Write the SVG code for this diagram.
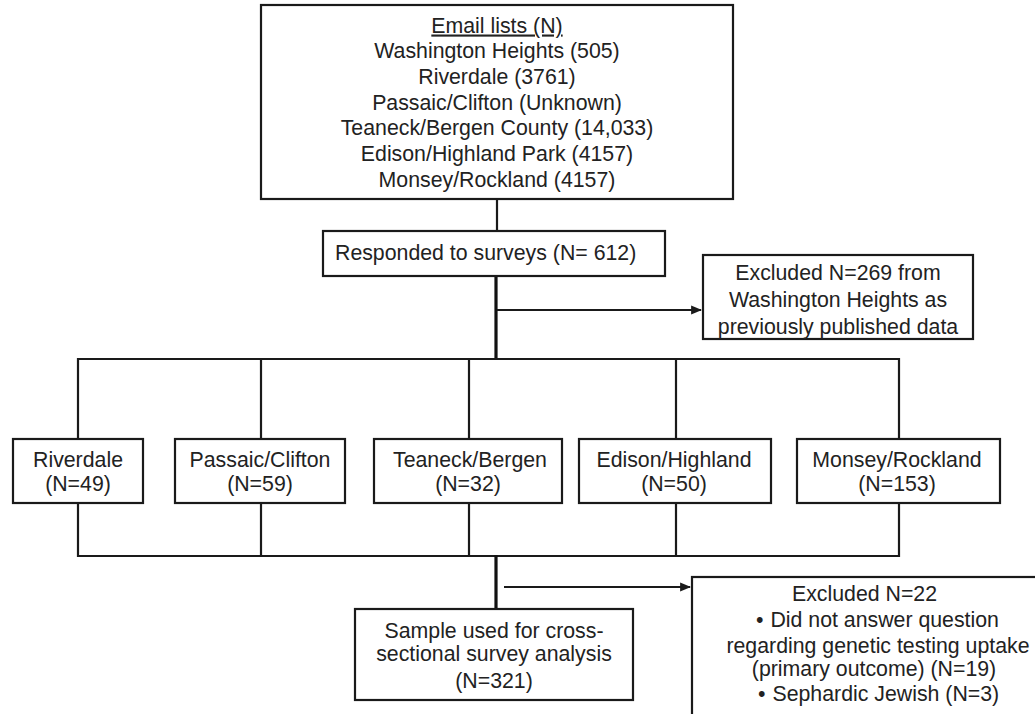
<svg xmlns="http://www.w3.org/2000/svg" width="1035" height="714" viewBox="0 0 1035 714">
<defs>
<style>
.box{fill:#fff;stroke:#1a1a1a;stroke-width:2.2}
.ln{fill:none;stroke:#1a1a1a;stroke-width:2.2}
.thick{fill:none;stroke:#111;stroke-width:3.2}
text{font-family:"Liberation Sans",Arial,sans-serif;font-size:21.3px;fill:#222}
.c{text-anchor:middle}
</style>
<marker id="ah" viewBox="0 0 10 10" refX="9" refY="5" markerWidth="5" markerHeight="5" orient="auto" markerUnits="strokeWidth">
<path d="M0,1 L10,5 L0,9 z" fill="#1a1a1a"/>
</marker>
</defs>
<rect width="1035" height="714" fill="#fff"/>
<g id="connectors">
<line class="ln" x1="497" y1="199" x2="497" y2="231"/>
<line class="thick" x1="496" y1="276" x2="496" y2="360"/>
<line class="ln" x1="497" y1="310" x2="701" y2="310" marker-end="url(#ah)"/>
<polyline class="ln" points="78,439 78,359 899,359 899,439"/>
<line class="ln" x1="261" y1="359" x2="261" y2="439"/>
<line class="ln" x1="469" y1="359" x2="469" y2="439"/>
<line class="ln" x1="676" y1="359" x2="676" y2="439"/>
<polyline class="ln" points="78,503 78,556 899,556 899,503"/>
<line class="ln" x1="261" y1="503" x2="261" y2="556"/>
<line class="ln" x1="469" y1="503" x2="469" y2="556"/>
<line class="ln" x1="676" y1="503" x2="676" y2="556"/>
<line class="thick" x1="496" y1="555" x2="496" y2="609"/>
<line class="ln" x1="504" y1="587" x2="690" y2="587" marker-end="url(#ah)"/>
</g>
<g id="email-lists">
<rect class="box" x="261" y="5" width="472" height="194"/>
<text class="c" x="497" y="32.5" text-decoration="underline">Email lists (N)</text>
<text class="c" x="497" y="58.2">Washington Heights (505)</text>
<text class="c" x="497" y="83.9">Riverdale (3761)</text>
<text class="c" x="497" y="109.6">Passaic/Clifton (Unknown)</text>
<text class="c" x="497" y="135.3">Teaneck/Bergen County (14,033)</text>
<text class="c" x="497" y="161">Edison/Highland Park (4157)</text>
<text class="c" x="497" y="186.7">Monsey/Rockland (4157)</text>
</g>
<g id="responded">
<rect class="box" x="323" y="231" width="342" height="45"/>
<text x="335" y="259.5">Responded to surveys (N= 612)</text>
</g>
<g id="excluded-269">
<rect class="box" x="703" y="255" width="270" height="84"/>
<text class="c" x="838" y="280">Excluded N=269 from</text>
<text class="c" x="838" y="307">Washington Heights as</text>
<text class="c" x="838" y="334">previously published data</text>
</g>
<g id="riverdale">
<rect class="box" x="13" y="439" width="130" height="64"/>
<text class="c" x="78" y="466.5">Riverdale</text>
<text class="c" x="78" y="491">(N=49)</text>
</g>
<g id="passaic">
<rect class="box" x="175" y="439" width="170" height="64"/>
<text class="c" x="260" y="466.5">Passaic/Clifton</text>
<text class="c" x="260" y="491">(N=59)</text>
</g>
<g id="teaneck">
<rect class="box" x="374" y="439" width="188" height="64"/>
<text class="c" x="470" y="466.5">Teaneck/Bergen</text>
<text class="c" x="468" y="491">(N=32)</text>
</g>
<g id="edison">
<rect class="box" x="579" y="439" width="192" height="64"/>
<text class="c" x="674" y="466.5">Edison/Highland</text>
<text class="c" x="674" y="491">(N=50)</text>
</g>
<g id="monsey">
<rect class="box" x="797" y="439" width="203" height="64"/>
<text class="c" x="897" y="466.5">Monsey/Rockland</text>
<text class="c" x="897" y="491">(N=153)</text>
</g>
<g id="sample">
<rect class="box" x="355" y="609" width="278" height="91"/>
<text class="c" x="494" y="637.5">Sample used for cross-</text>
<text class="c" x="494" y="661">sectional survey analysis</text>
<text class="c" x="494" y="687.5">(N=321)</text>
</g>
<g id="excluded-22">
<rect class="box" x="692" y="577" width="400" height="200"/>
<text class="c" x="864.5" y="600.5">Excluded N=22</text>
<text x="756" y="626.5">•<tspan dx="7">Did not answer question</tspan></text>
<text class="c" x="878" y="652.5">regarding genetic testing uptake</text>
<text class="c" x="874" y="675.5">(primary outcome) (N=19)</text>
<text x="758" y="700.5">•<tspan dx="7">Sephardic Jewish (N=3)</tspan></text>
</g>
</svg>
